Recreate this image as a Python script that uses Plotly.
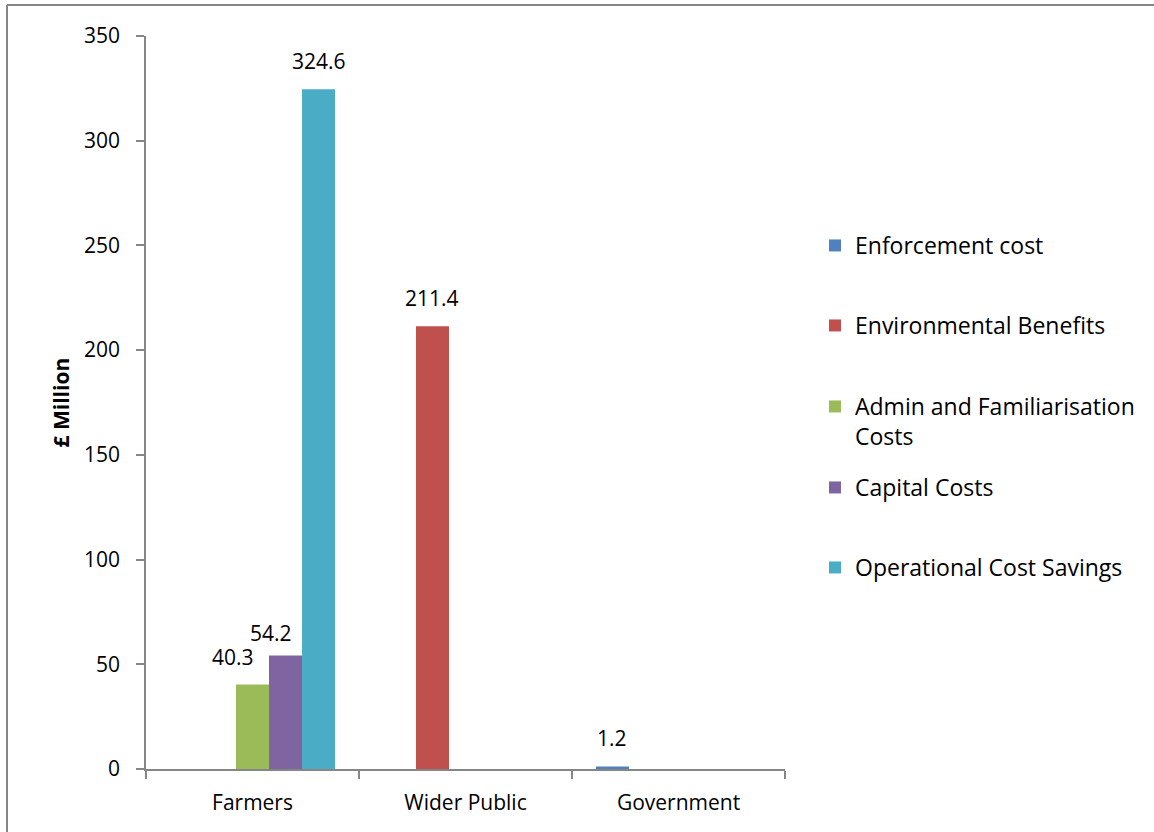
import plotly.graph_objects as go

categories = ["Farmers", "Wider Public", "Government"]
series_names = ["Enforcement cost", "Environmental Benefits",
                "Admin and Familiarisation<br>Costs", "Capital Costs",
                "Operational Cost Savings"]
enforcement = [None, None, 1.2]
environmental = [None, 211.4, None]
admin = [40.3, None, None]
capital = [54.2, None, None]
operational = [324.6, None, None]
colors = ["#4F81BD", "#C0504D", "#9BBB59", "#8064A2", "#4BACC6"]
y_ticks = [0, 50, 100, 150, 200, 250, 300, 350]

series = [enforcement, environmental, admin, capital, operational]

FONT = "Open Sans"
FS = 21
LFS = 23
AX = "#868686"
W, H = 1154, 832
L, R, T, B = 146, 369, 36, 63
BARGAP = 0.225
pw = W - L - R
ph = H - T - B

# legend entry vertical centres (pixels from top) for layout only
legend_tops = [243, 323, 404, 485, 565]

fig = go.Figure()
legends = {}
for i, (name, vals, col) in enumerate(zip(series_names, series, colors)):
    key = "legend" if i == 0 else f"legend{i + 1}"
    fig.add_trace(go.Bar(x=categories, y=vals, name=name, marker_color=col,
                         marker_line_width=0, legend=key))
    legends[key] = dict(x=(815 - L) / pw, y=1 - (legend_tops[i] - 19 - T) / ph,
                        xanchor="left", yanchor="top", valign="top", itemwidth=30,
                        font=dict(family=FONT, size=LFS, color="#000000"),
                        bgcolor="rgba(0,0,0,0)")

# data labels
slot = (1 - BARGAP) / len(series)
label_tweak = {(2, 0): (-20, 28), (3, 0): (-15, 22)}
annotations = []
for i, vals in enumerate(series):
    for j, v in enumerate(vals):
        if v is None:
            continue
        xs, ys = label_tweak.get((i, j), (0, 28))
        annotations.append(dict(
            x=j + (i - (len(series) - 1) / 2) * slot, y=v, xref="x", yref="y",
            text=f"{v:.1f}", showarrow=False, xshift=xs, yshift=ys,
            yanchor="middle", font=dict(family=FONT, size=FS, color="#000000")))

annotations.append(dict(
    x=(60 - L) / pw, y=0.5, xref="paper", yref="paper", text="<b>£ Million</b>",
    textangle=-90, showarrow=False, xanchor="center", yanchor="middle",
    font=dict(family=FONT, size=21, color="#000000")))

# outer frame (top and left edges visible)
shapes = [
    dict(type="line", xref="paper", yref="paper",
         x0=(7 - L) / pw, x1=(W - L) / pw, y0=1 + (T - 5) / ph, y1=1 + (T - 5) / ph,
         line=dict(color=AX, width=2)),
    dict(type="line", xref="paper", yref="paper",
         x0=(7 - L) / pw, x1=(7 - L) / pw, y0=1 + (T - 5) / ph, y1=-(B) / ph,
         line=dict(color=AX, width=2)),
]

fig.update_layout(
    width=W, height=H, margin=dict(l=L, r=R, t=T, b=B, autoexpand=False),
    paper_bgcolor="white", plot_bgcolor="white",
    barmode="group", bargap=BARGAP, bargroupgap=0,
    font=dict(family=FONT, size=FS, color="#000000"),
    showlegend=True,
    annotations=annotations, shapes=shapes,
    **legends,
)
fig.update_xaxes(type="category", showline=True, linecolor=AX, linewidth=1.5,
                 ticks="outside", tickson="boundaries", ticklen=8, tickcolor=AX,
                 tickwidth=1.5, showgrid=False, zeroline=False, ticklabelstandoff=14,
                 tickfont=dict(family=FONT, size=FS, color="#000000"))
fig.update_yaxes(range=[0, 350], tickvals=y_ticks, showline=True, linecolor=AX,
                 linewidth=1.5, ticks="outside", ticklen=8, tickcolor=AX, tickwidth=1.5,
                 showgrid=False, zeroline=False, ticklabelstandoff=12,
                 tickfont=dict(family=FONT, size=FS, color="#000000"))

fig.write_html("out.html")
